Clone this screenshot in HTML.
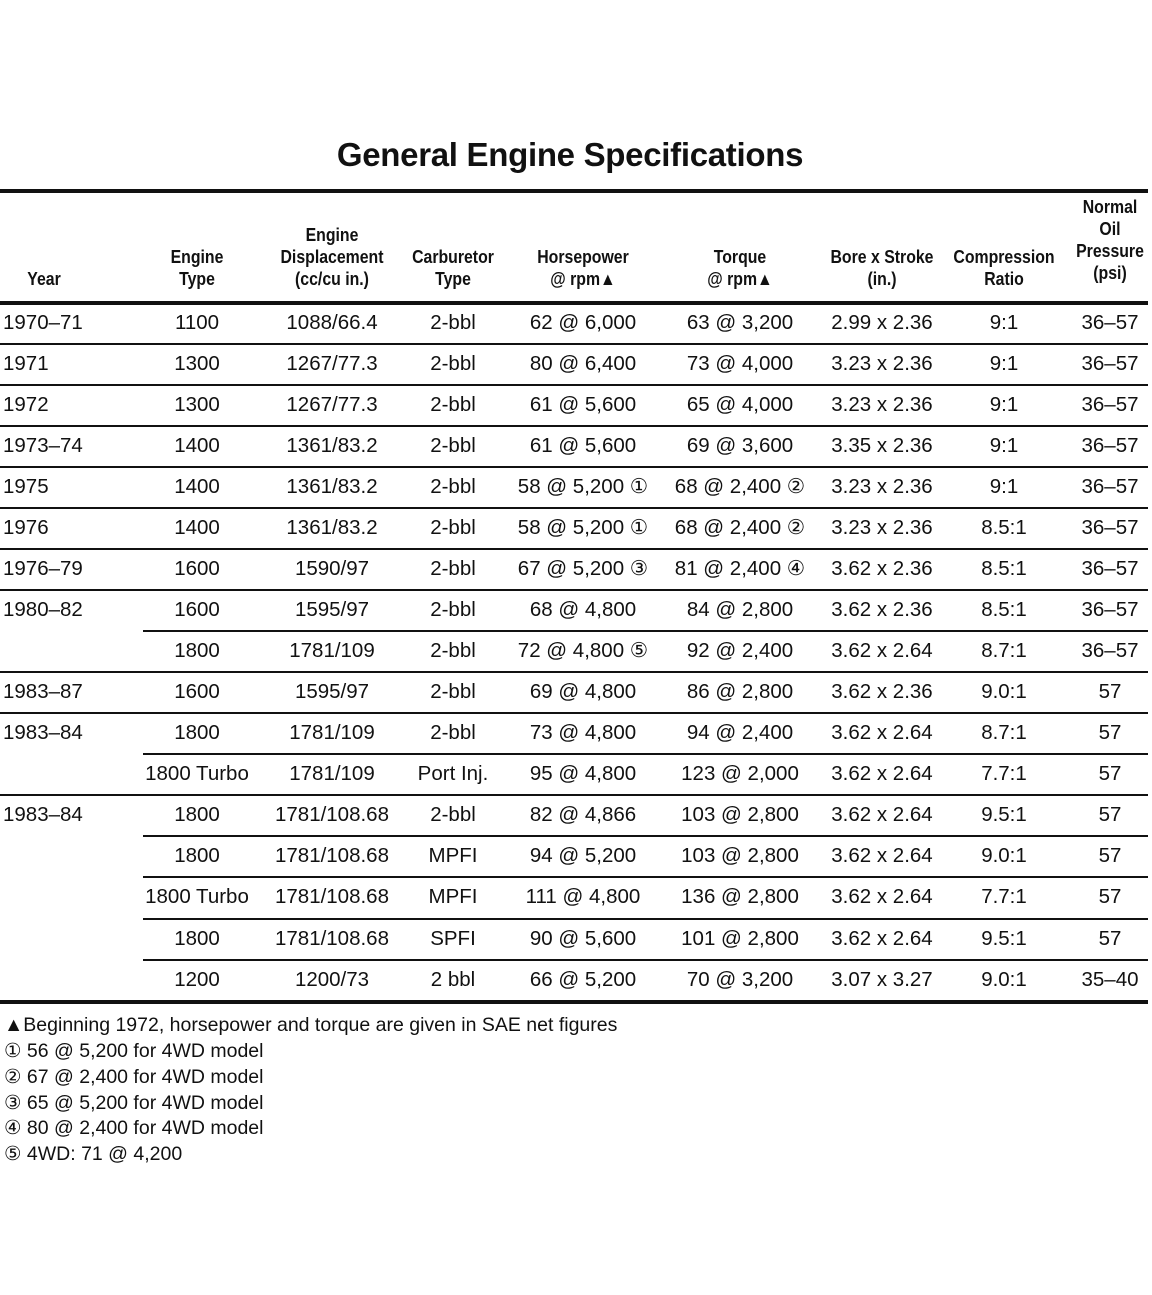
<!DOCTYPE html>
<html><head><style>
body{margin:0;width:1152px;height:1295px;background:#fff;position:relative;font-family:"Liberation Sans",sans-serif;color:#111;overflow:hidden}
.t{position:absolute;left:0;width:1140px;text-align:center;top:136px;font-size:33px;font-weight:bold;letter-spacing:-0.3px}
.hl{position:absolute;background:#111}
.h{position:absolute;width:200px;text-align:center;font-weight:bold;font-size:18px;line-height:22px;transform:scaleX(0.88);transform-origin:center}
.r{position:absolute;left:0;width:1152px;height:41px}
.r div{position:absolute;top:0;width:200px;text-align:center;line-height:41px;font-size:20.5px;white-space:nowrap}
.r .y{left:3px;text-align:left}
.c1{left:97px}.c2{left:232px}.c3{left:353px}.c4{left:483px}.c5{left:640px}.c6{left:782px}.c7{left:904px}.c8{left:1010px}
.f{position:absolute;left:4px;font-size:19.5px;line-height:26px}
</style></head><body>
<div class="t">General Engine Specifications</div>
<div class="hl" style="left:0;top:189px;width:1148px;height:4px"></div>
<div class="h" style="left:-56px;top:268px">Year</div>
<div class="h" style="left:97px;top:246px">Engine<br>Type</div>
<div class="h" style="left:232px;top:224px">Engine<br>Displacement<br>(cc/cu in.)</div>
<div class="h" style="left:353px;top:246px">Carburetor<br>Type</div>
<div class="h" style="left:483px;top:246px">Horsepower<br>@ rpm▲</div>
<div class="h" style="left:640px;top:246px">Torque<br>@ rpm▲</div>
<div class="h" style="left:782px;top:246px">Bore x Stroke<br>(in.)</div>
<div class="h" style="left:904px;top:246px">Compression<br>Ratio</div>
<div class="h" style="left:1010px;top:196px">Normal<br>Oil<br>Pressure<br>(psi)</div>
<div class="hl" style="left:0;top:301px;width:1148px;height:4px"></div>

<div class="r" style="top:302px"><div class="y">1970–71</div><div class="c1">1100</div><div class="c2">1088/66.4</div><div class="c3">2-bbl</div><div class="c4">62 @ 6,000</div><div class="c5">63 @ 3,200</div><div class="c6">2.99 x 2.36</div><div class="c7">9:1</div><div class="c8">36–57</div></div>
<div class="hl" style="left:0;top:343px;width:1148px;height:2px"></div>
<div class="r" style="top:343px"><div class="y">1971</div><div class="c1">1300</div><div class="c2">1267/77.3</div><div class="c3">2-bbl</div><div class="c4">80 @ 6,400</div><div class="c5">73 @ 4,000</div><div class="c6">3.23 x 2.36</div><div class="c7">9:1</div><div class="c8">36–57</div></div>
<div class="hl" style="left:0;top:384px;width:1148px;height:2px"></div>
<div class="r" style="top:384px"><div class="y">1972</div><div class="c1">1300</div><div class="c2">1267/77.3</div><div class="c3">2-bbl</div><div class="c4">61 @ 5,600</div><div class="c5">65 @ 4,000</div><div class="c6">3.23 x 2.36</div><div class="c7">9:1</div><div class="c8">36–57</div></div>
<div class="hl" style="left:0;top:425px;width:1148px;height:2px"></div>
<div class="r" style="top:425px"><div class="y">1973–74</div><div class="c1">1400</div><div class="c2">1361/83.2</div><div class="c3">2-bbl</div><div class="c4">61 @ 5,600</div><div class="c5">69 @ 3,600</div><div class="c6">3.35 x 2.36</div><div class="c7">9:1</div><div class="c8">36–57</div></div>
<div class="hl" style="left:0;top:466px;width:1148px;height:2px"></div>
<div class="r" style="top:466px"><div class="y">1975</div><div class="c1">1400</div><div class="c2">1361/83.2</div><div class="c3">2-bbl</div><div class="c4">58 @ 5,200 ①</div><div class="c5">68 @ 2,400 ②</div><div class="c6">3.23 x 2.36</div><div class="c7">9:1</div><div class="c8">36–57</div></div>
<div class="hl" style="left:0;top:507px;width:1148px;height:2px"></div>
<div class="r" style="top:507px"><div class="y">1976</div><div class="c1">1400</div><div class="c2">1361/83.2</div><div class="c3">2-bbl</div><div class="c4">58 @ 5,200 ①</div><div class="c5">68 @ 2,400 ②</div><div class="c6">3.23 x 2.36</div><div class="c7">8.5:1</div><div class="c8">36–57</div></div>
<div class="hl" style="left:0;top:548px;width:1148px;height:2px"></div>
<div class="r" style="top:548px"><div class="y">1976–79</div><div class="c1">1600</div><div class="c2">1590/97</div><div class="c3">2-bbl</div><div class="c4">67 @ 5,200 ③</div><div class="c5">81 @ 2,400 ④</div><div class="c6">3.62 x 2.36</div><div class="c7">8.5:1</div><div class="c8">36–57</div></div>
<div class="hl" style="left:0;top:589px;width:1148px;height:2px"></div>
<div class="r" style="top:589px"><div class="y">1980–82</div><div class="c1">1600</div><div class="c2">1595/97</div><div class="c3">2-bbl</div><div class="c4">68 @ 4,800</div><div class="c5">84 @ 2,800</div><div class="c6">3.62 x 2.36</div><div class="c7">8.5:1</div><div class="c8">36–57</div></div>
<div class="hl" style="left:143px;top:630px;width:1005px;height:2px"></div>
<div class="r" style="top:630px"><div class="y"></div><div class="c1">1800</div><div class="c2">1781/109</div><div class="c3">2-bbl</div><div class="c4">72 @ 4,800 ⑤</div><div class="c5">92 @ 2,400</div><div class="c6">3.62 x 2.64</div><div class="c7">8.7:1</div><div class="c8">36–57</div></div>
<div class="hl" style="left:0;top:671px;width:1148px;height:2px"></div>
<div class="r" style="top:671px"><div class="y">1983–87</div><div class="c1">1600</div><div class="c2">1595/97</div><div class="c3">2-bbl</div><div class="c4">69 @ 4,800</div><div class="c5">86 @ 2,800</div><div class="c6">3.62 x 2.36</div><div class="c7">9.0:1</div><div class="c8">57</div></div>
<div class="hl" style="left:0;top:712px;width:1148px;height:2px"></div>
<div class="r" style="top:712px"><div class="y">1983–84</div><div class="c1">1800</div><div class="c2">1781/109</div><div class="c3">2-bbl</div><div class="c4">73 @ 4,800</div><div class="c5">94 @ 2,400</div><div class="c6">3.62 x 2.64</div><div class="c7">8.7:1</div><div class="c8">57</div></div>
<div class="hl" style="left:143px;top:753px;width:1005px;height:2px"></div>
<div class="r" style="top:753px"><div class="y"></div><div class="c1">1800 Turbo</div><div class="c2">1781/109</div><div class="c3">Port Inj.</div><div class="c4">95 @ 4,800</div><div class="c5">123 @ 2,000</div><div class="c6">3.62 x 2.64</div><div class="c7">7.7:1</div><div class="c8">57</div></div>
<div class="hl" style="left:0;top:794px;width:1148px;height:2px"></div>
<div class="r" style="top:794px"><div class="y">1983–84</div><div class="c1">1800</div><div class="c2">1781/108.68</div><div class="c3">2-bbl</div><div class="c4">82 @ 4,866</div><div class="c5">103 @ 2,800</div><div class="c6">3.62 x 2.64</div><div class="c7">9.5:1</div><div class="c8">57</div></div>
<div class="hl" style="left:143px;top:835px;width:1005px;height:2px"></div>
<div class="r" style="top:835px"><div class="y"></div><div class="c1">1800</div><div class="c2">1781/108.68</div><div class="c3">MPFI</div><div class="c4">94 @ 5,200</div><div class="c5">103 @ 2,800</div><div class="c6">3.62 x 2.64</div><div class="c7">9.0:1</div><div class="c8">57</div></div>
<div class="hl" style="left:143px;top:876px;width:1005px;height:2px"></div>
<div class="r" style="top:876px"><div class="y"></div><div class="c1">1800 Turbo</div><div class="c2">1781/108.68</div><div class="c3">MPFI</div><div class="c4">111 @ 4,800</div><div class="c5">136 @ 2,800</div><div class="c6">3.62 x 2.64</div><div class="c7">7.7:1</div><div class="c8">57</div></div>
<div class="hl" style="left:143px;top:918px;width:1005px;height:2px"></div>
<div class="r" style="top:918px"><div class="y"></div><div class="c1">1800</div><div class="c2">1781/108.68</div><div class="c3">SPFI</div><div class="c4">90 @ 5,600</div><div class="c5">101 @ 2,800</div><div class="c6">3.62 x 2.64</div><div class="c7">9.5:1</div><div class="c8">57</div></div>
<div class="hl" style="left:143px;top:959px;width:1005px;height:2px"></div>
<div class="r" style="top:959px"><div class="y"></div><div class="c1">1200</div><div class="c2">1200/73</div><div class="c3">2 bbl</div><div class="c4">66 @ 5,200</div><div class="c5">70 @ 3,200</div><div class="c6">3.07 x 3.27</div><div class="c7">9.0:1</div><div class="c8">35–40</div></div>
<div class="hl" style="left:0;top:1000px;width:1148px;height:4px"></div>

<div class="f" style="top:1012px">▲Beginning 1972, horsepower and torque are given in SAE net figures</div>
<div class="f" style="top:1038px">① 56 @ 5,200 for 4WD model</div>
<div class="f" style="top:1064px">② 67 @ 2,400 for 4WD model</div>
<div class="f" style="top:1090px">③ 65 @ 5,200 for 4WD model</div>
<div class="f" style="top:1115px">④ 80 @ 2,400 for 4WD model</div>
<div class="f" style="top:1141px">⑤ 4WD: 71 @ 4,200</div>
</body></html>
